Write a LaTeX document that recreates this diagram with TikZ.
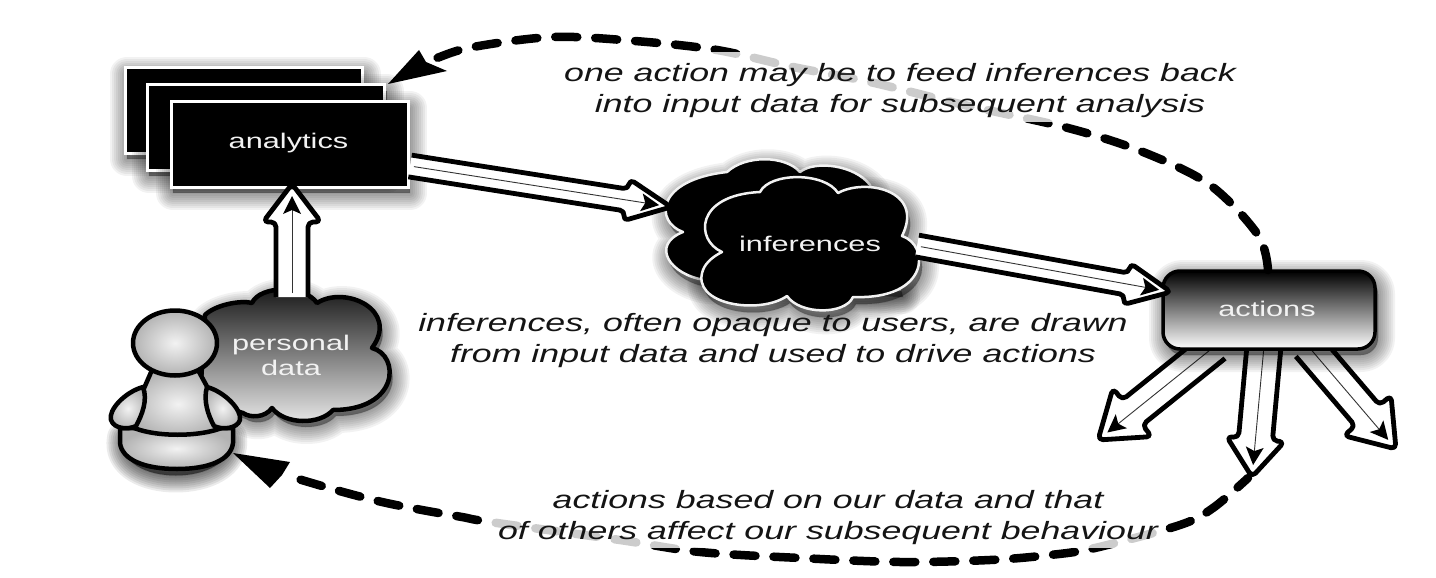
\documentclass[tikz,border=0pt]{standalone}
\usepackage{fontspec}
\setmainfont{Liberation Sans}
\usetikzlibrary{calc,shapes.geometric}
\tikzset{
  boxlabel/.style={text=white!95!black,font=\fontsize{21.2}{25}\selectfont,align=center,xscale=1.45,transform shape,inner sep=0pt},
  remark/.style={text=black!92,font=\fontsize{25}{31}\selectfont\itshape,align=center,xscale=1.43,transform shape,inner sep=0pt},
  stackbox/.style={fill=black,draw=white,line width=3pt,minimum width=237pt,minimum height=85pt,inner sep=0pt},
  cloudline/.style={draw=white!95!black,line width=2.5pt,line join=round,fill=black},
  personpart/.style={draw=black,line width=4.5pt,line join=round,inner color=white!95!black,outer color=black!30},
  feedback/.style={draw=black,line width=8.5pt,line cap=round,dash pattern=on 22pt off 18pt}
}
% layered translucent strokes give a soft drop shadow
\newcommand\softshadow[3][.05]{%
  \begin{scope}[shift={#2}]
  \foreach \w in {34,30,...,2}{\path[draw=black,fill=black,draw opacity=#1,fill opacity=#1,line width=\w pt,line join=round] #3;}
  \end{scope}}
% outlined arrow: start, tip, shaft half width, head half width, head length
\newcommand\hollowarrow[5]{%
  \path let \p1=(#1),\p2=(#2) in \pgfextra{%
    \pgfmathsetmacro\hang{atan2(\y2-\y1,\x2-\x1)}\pgfmathsetmacro\hlen{veclen(\x2-\x1,\y2-\y1)}%
    \xdef\harrowang{\hang}\xdef\harrowlen{\hlen}};
  \begin{scope}[x=1pt,y=1pt,shift={(#1)},rotate=\harrowang]
    \draw[fill=white,draw=black,line width=4.8pt,rounded corners=5pt,line join=round]
      (0,#3) -- ({\harrowlen-#5},#3) -- ({\harrowlen-#5},#4) -- (\harrowlen,0) -- ({\harrowlen-#5},-#4) -- ({\harrowlen-#5},-#3) -- (0,-#3);
    \draw[black!80,line width=.9pt] (4,0) -- ({\harrowlen-20},0);
    \fill[black] ({\harrowlen-12},0) -- ({\harrowlen-30},9) -- ({\harrowlen-26},0) -- ({\harrowlen-30},-9) -- cycle;
  \end{scope}}
\def\backcloud{(727,172) .. controls (745,155) and (785,155) .. (800,172) .. controls (815,160) and (855,165) .. (870,185) -- (900,290) -- (705,280) .. controls (670,275) and (650,245) .. (683,232) .. controls (655,222) and (655,180) .. (727,172) -- cycle}
\def\frontcloud{(722,252) .. controls (695,240) and (695,195) .. (760,192) .. controls (770,172) and (825,172) .. (838,193) .. controls (865,178) and (925,190) .. (902,236) .. controls (930,245) and (930,300) .. (853,297) .. controls (845,315) and (800,315) .. (787,296) .. controls (760,315) and (690,305) .. (703,270) .. controls (706,262) and (714,256) .. (722,252) -- cycle}
\def\datacloud{(205,315) .. controls (215,305) and (240,300) .. (252,303) .. controls (260,285) and (305,285) .. (317,303) .. controls (345,285) and (400,310) .. (372,348) .. controls (400,355) and (400,410) .. (333,410) .. controls (320,425) and (285,425) .. (272,408) .. controls (265,418) and (250,418) .. (243,413) -- (200,400) -- cycle}
\begin{document}
\begin{tikzpicture}[x=1pt,y=-1pt]
\useasboundingbox (0,0) rectangle (1436,578);
\fill[white] (0,0) rectangle (1436,578);

% stacked analytics sheets
\softshadow{(2,6)}{(125,68) rectangle (362,153)}
\node[stackbox] (sheetA) at (243.5,110.5) {};
\softshadow{(2,6)}{(147,85) rectangle (385,170)}
\node[stackbox] (sheetB) at (266,127.5) {};
\softshadow{(2,6)}{(171,102) rectangle (408,187)}
\node[stackbox] (analytics) at (289.5,144.5) {};
\node[boxlabel] (analyticsText) at (288.5,143) {analytics};

% inferences cloud pair
\softshadow{(3,7)}{\backcloud}
\path[cloudline] \backcloud;
\softshadow{(3,7)}{\frontcloud}
\path[cloudline] \frontcloud;
\node[minimum width=250pt,minimum height=130pt,inner sep=0pt] (inferences) at (793,237) {};
\node[boxlabel] (inferencesText) at (810,244) {inferences};

% personal data cloud
\softshadow{(3,6)}{\datacloud}
\path[draw=black,line width=4.5pt,line join=round,top color=black!92,bottom color=white!92!black] \datacloud;
\node[minimum width=180pt,minimum height=115pt,inner sep=0pt] (personal) at (285,360) {};
\node[boxlabel] (personalText) at (291,355) {personal\\data};

% arrows leaving the actions box
\coordinate (fanL) at (1215,346);
\coordinate (fanM) at (1264,346);
\coordinate (fanR) at (1308,346);
\coordinate (tipL) at (1098,440);
\coordinate (tipM) at (1252,477);
\coordinate (tipR) at (1396,449);
\hollowarrow{fanL}{tipL}{16}{31}{44}
\hollowarrow{fanM}{tipM}{17}{29}{38}
\hollowarrow{fanR}{tipR}{16}{31}{44}

% actions box
\softshadow{(3,6)}{[rounded corners=17pt] (1163,271) rectangle (1375,349)}
\node[draw=black,line width=3.5pt,rounded corners=17pt,top color=black,bottom color=white,minimum width=212pt,minimum height=78pt,inner sep=0pt] (actions) at (1269,310) {};
\node[boxlabel] (actionsText) at (1267,309) {actions};

% data flow arrows
\coordinate (flowAout) at (410,166);
\coordinate (flowAin) at (671,207);
\coordinate (flowBout) at (917,246);
\coordinate (flowBin) at (1171,292);
\hollowarrow{flowAout}{flowAin}{11}{21}{45}
\hollowarrow{flowBout}{flowBin}{11}{21}{45}
\coordinate (upStart) at (292,297);
\coordinate (upTip) at (292,184);
\hollowarrow{upStart}{upTip}{16}{29}{38}

% person figure
\softshadow[.08]{(2,8)}{(122,430) .. controls (112,480) and (235,480) .. (228,430) -- cycle}
\path[personpart] (120,428) -- (120,443) .. controls (122,460) and (145,469) .. (177,469) .. controls (209,469) and (231,460) .. (233,443) -- (233,428) -- cycle;
\path[personpart] (152,370) -- (198,370) -- (228,425) .. controls (205,438) and (150,438) .. (128,425) -- cycle;
\path[personpart] (143,387) .. controls (125,392) and (108,410) .. (111,420) .. controls (114,429) and (128,430) .. (136,426) .. controls (142,415) and (148,400) .. (143,387) -- cycle;
\path[personpart] (207,387) .. controls (225,392) and (242,410) .. (240,420) .. controls (237,429) and (222,430) .. (214,426) .. controls (208,415) and (203,400) .. (207,387) -- cycle;
\node[ellipse,personpart,minimum width=84pt,minimum height=65pt,inner sep=0pt] (person) at (175,343) {};

% feedback loops
\coordinate (backTip) at (388,84);
\coordinate (personTip) at (233,453);
\coordinate (actionsTop) at (1268,270);
\coordinate (fanTip) at (1248,478);
\draw[feedback] plot[smooth,tension=.55] coordinates {(actionsTop) (1258,235) (1210,185) (1143,152) (1068,128) (960,104) (870,82) (793,67) (717,50) (635,41) (553,37) (473,47) (437,58) (425,64)};
\fill[black] (backTip) -- (419,50) -- (426,62) -- (447,71) -- cycle;
\draw[feedback,dash phase=8pt] plot[smooth,tension=.55] coordinates {(fanTip) (1213,508) (1180,525) (1095,548) (1050,555) (990,560) (900,562) (800,558) (700,552) (620,540) (490,522) (462,517) (422,510) (382,502) (343,492) (305,481) (292,477)};
\fill[black] (personTip) -- (290,462) -- (282,475) -- (270,488) -- cycle;

% translucent panels behind the remarks fade the loops they cross
\fill[white,opacity=.8] (560,52) rectangle (1240,122);
\fill[white,opacity=.8] (490,486) rectangle (1160,548);
\node[remark] (noteFeed) at (900,91) {one action may be to feed inferences back\\into input data for subsequent analysis};
\node[remark] (noteDrawn) at (773,341) {inferences, often opaque to users, are drawn\\from input data and used to drive actions};
\node[remark] (noteOthers) at (828,518) {actions based on our data and that\\of others affect our subsequent behaviour};
\end{tikzpicture}
\end{document}
